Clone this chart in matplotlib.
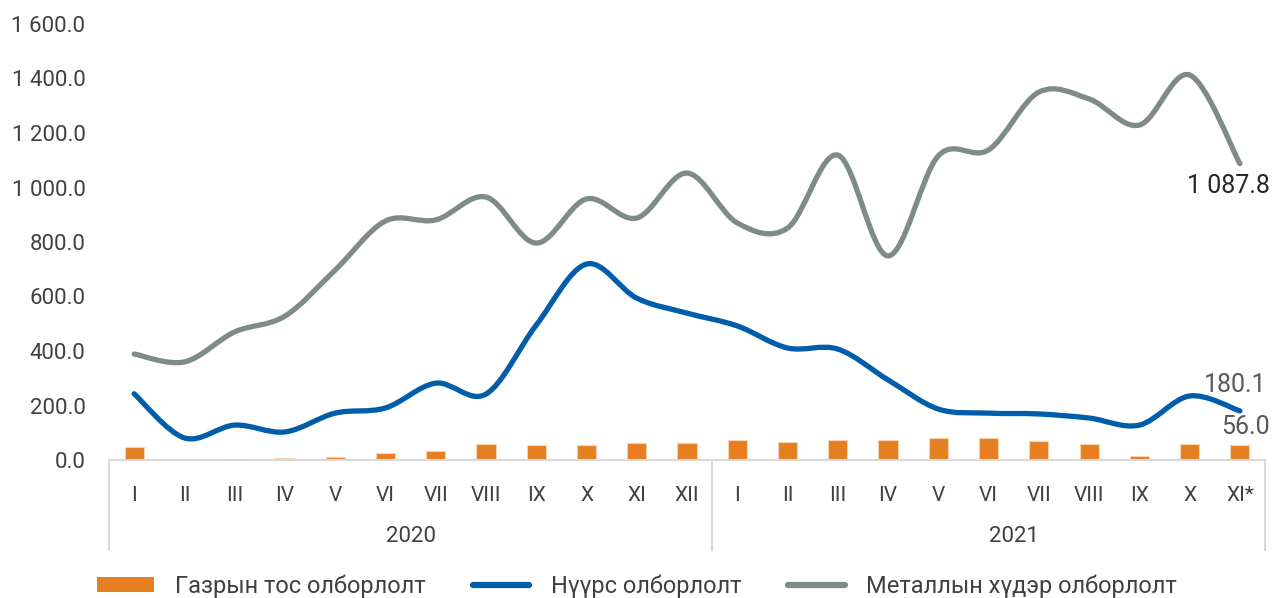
import numpy as np
import matplotlib.pyplot as plt
from matplotlib.path import Path
from matplotlib.patches import PathPatch, Patch
from matplotlib.lines import Line2D
from matplotlib.ticker import FuncFormatter

plt.rcParams['font.family'] = ['Roboto', 'DejaVu Sans']

# months, 2020 I..XII and 2021 I..XI*
months = ['I', 'II', 'III', 'IV', 'V', 'VI', 'VII', 'VIII', 'IX', 'X', 'XI', 'XII',
          'I', 'II', 'III', 'IV', 'V', 'VI', 'VII', 'VIII', 'IX', 'X', 'XI*']
years = ['2020', '2021']

oil = [46, 0, 3, 8, 12, 27, 34, 59, 55, 56, 63, 61,
       72, 66, 73, 75, 79, 81, 68, 59, 15, 57, 56.0]
coal = [243, 81, 128, 103, 172, 191, 282, 242, 495, 719, 594, 539,
        492, 411, 407, 294, 187, 172, 169, 154, 128, 235, 180.1]
metal = [389, 360, 470, 528, 697, 877, 881, 965, 796, 958, 888, 1053,
         870, 851, 1119, 749, 1116, 1138, 1350, 1325, 1229, 1413, 1087.8]

c_oil = '#E67E22'
c_coal = '#005DAA'
c_metal = '#7F8B89'
c_text = '#404040'


def smooth_path(xs, ys):
    # excel-like smoothed line: cubic bezier through the points
    pts = np.column_stack([xs, ys]).astype(float)
    n = len(pts)
    verts = [pts[0]]
    codes = [Path.MOVETO]
    for i in range(n - 1):
        p0 = pts[i - 1] if i > 0 else pts[i]
        p1 = pts[i]
        p2 = pts[i + 1]
        p3 = pts[i + 2] if i + 2 < n else pts[i + 1]
        c1 = p1 + (p2 - p0) / 6
        c2 = p2 - (p3 - p1) / 6
        verts += [c1, c2, p2]
        codes += [Path.CURVE4] * 3
    return Path(verts, codes)


fig = plt.figure(figsize=(12.74, 5.98), dpi=100)
ax = fig.add_axes([109 / 1274, 138 / 598, 1156 / 1274, 436 / 598])

x = np.arange(len(months))
ax.bar(x, oil, width=0.38, color=c_oil, edgecolor='#F6D2B2', linewidth=0.8, zorder=2)

for vals, col in [(coal, c_coal), (metal, c_metal)]:
    ax.add_patch(PathPatch(smooth_path(x, vals), facecolor='none', edgecolor=col,
                           linewidth=3.8, capstyle='round', joinstyle='round', zorder=3))

ax.set_xlim(-0.5, len(months) - 0.5)
ax.set_ylim(0, 1600)
ax.set_yticks(np.arange(0, 1601, 200))
ax.yaxis.set_major_formatter(FuncFormatter(lambda v, _: f'{v:,.1f}'.replace(',', ' ')))
ax.set_xticks(x)
ax.set_xticklabels(months)
ax.tick_params(axis='y', length=0, pad=17, labelsize=16, labelcolor=c_text)
ax.tick_params(axis='x', length=0, pad=19, labelsize=15, labelcolor=c_text)

for s in ['top', 'right', 'left']:
    ax.spines[s].set_visible(False)
ax.spines['bottom'].set_color('#D9D9D9')
ax.spines['bottom'].set_linewidth(1.5)

# year group separators and labels
trans = ax.get_xaxis_transform()
for xv in [-0.5, 11.5, len(months) - 0.5]:
    ax.plot([xv, xv], [0, -0.206], transform=trans, color='#D9D9D9', lw=1.5, clip_on=False)
ax.text(5.5, -0.175, years[0], transform=trans, ha='center', va='center',
        fontsize=16, color=c_text)
ax.text(17.5, -0.175, years[1], transform=trans, ha='center', va='center',
        fontsize=16, color=c_text)

# data labels for the last month
last = len(months) - 1
ax.text(last + 0.6, metal[-1] - 83, '1 087.8', ha='right', va='center', fontsize=18,
        color='#262626', clip_on=False)
ax.text(last + 0.53, coal[-1] + 95, f'{coal[-1]:.1f}', ha='right', va='center', fontsize=18,
        color='#595959', clip_on=False)
ax.text(last + 0.6, oil[-1] + 65, f'{oil[-1]:.1f}', ha='right', va='center', fontsize=18,
        color='#595959', clip_on=False)

handles = [Patch(facecolor=c_oil, edgecolor='none'),
           Line2D([0], [0], color=c_coal, lw=4.5, solid_capstyle='round'),
           Line2D([0], [0], color=c_metal, lw=4.5, solid_capstyle='round')]
labels = ['Газрын тос олборлолт', 'Нүүрс олборлолт', 'Металлын хүдэр олборлолт']
leg = fig.legend(handles, labels, loc='center', bbox_to_anchor=(0.5, 0.02), ncol=3,
                 frameon=False, fontsize=17, handlelength=2.4, handleheight=0.6,
                 handletextpad=0.9, columnspacing=2.0)
for t in leg.get_texts():
    t.set_color(c_text)

fig.savefig('out.png', dpi=100)
